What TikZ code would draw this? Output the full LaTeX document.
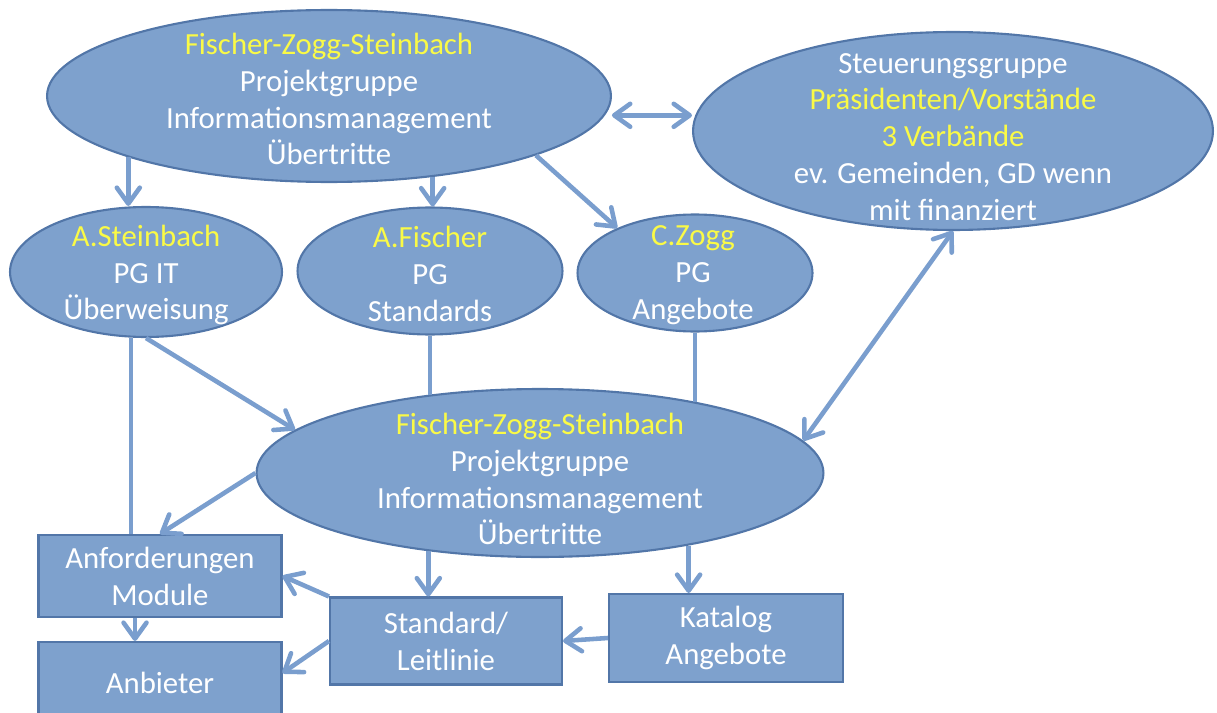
\documentclass[tikz,border=0pt]{standalone}
\usepackage{fontspec}
\setmainfont{Carlito}
\usetikzlibrary{shapes.geometric,arrows.meta,calc}
\definecolor{boxfill}{RGB}{126,161,205}
\definecolor{boxrule}{RGB}{82,118,168}
\definecolor{linkblue}{RGB}{122,158,206}
\definecolor{nameyellow}{RGB}{250,250,70}
\tikzset{
  bubble/.style={ellipse,draw=boxrule,line width=1.2pt,fill=boxfill,inner sep=0pt},
  panel/.style={rectangle,draw=boxrule,line width=1.2pt,fill=boxfill,inner sep=0pt},
  txt/.style={text=white,align=center,font=\fontsize{17.5}{21}\selectfont},
  barb/.tip={Straight Barb[length=3.2mm,width=4.6mm,round]},
  arr/.style={-barb,line width=2.6pt,draw=linkblue},
  dbl/.style={barb-barb,line width=2.6pt,draw=linkblue},
  ln/.style={line width=2.6pt,draw=linkblue}
}
\newcommand{\nm}[1]{\textcolor{nameyellow}{#1}}

\begin{document}
\begin{tikzpicture}[x=0.02cm,y=-0.02cm]
  \useasboundingbox (0,0) rectangle (1217,713);
  \clip (0,0) rectangle (1217,713);
  % ellipses
  \node[bubble,minimum width=11.28cm,minimum height=3.44cm] (pgTop) at (329,96) {};
  \node[txt] (pgTopTxt) at (329,99) {\nm{Fischer-Zogg-Steinbach}\\Projektgruppe\\Informationsmanagement\\Übertritte};
  \node[bubble,minimum width=10.4cm,minimum height=3.96cm] (steer) at (953,131) {};
  \node[txt] (steerTxt) at (953,137) {Steuerungsgruppe\\\nm{Präsidenten/Vorstände}\\\nm{3 Verbände}\\ev. Gemeinden, GD wenn\\mit finanziert};
  \node[bubble,minimum width=5.44cm,minimum height=2.6cm] (stIT) at (146,272) {};
  \node[txt] (stITTxt) at (146,275) {\nm{A.Steinbach}\\PG IT\\Überweisung};
  \node[bubble,minimum width=5.3cm,minimum height=2.54cm] (stStd) at (430,271) {};
  \node[txt] (stStdTxt) at (430,274) {\nm{A.Fischer}\\PG\\Standards};
  \node[bubble,minimum width=4.7cm,minimum height=2.34cm] (stAng) at (695,273) {};
  \node[txt] (stAngTxt) at (693,275) {\nm{C.Zogg}\\PG\\Angebote};
  \node[bubble,minimum width=11.34cm,minimum height=3.36cm] (pgBot) at (540,473) {};
  \node[txt] (pgBotTxt) at (540,479) {\nm{Fischer-Zogg-Steinbach}\\Projektgruppe\\Informationsmanagement\\Übertritte};
  % boxes
  \node[panel,txt,minimum width=4.86cm,minimum height=1.64cm] (anf) at (160,576) {Anforderungen\\Module};
  \node[panel,txt,minimum width=4.86cm,minimum height=1.64cm] (anb) at (160,683) {Anbieter};
  \node[panel,txt,minimum width=4.64cm,minimum height=1.74cm] (stdBox) at (446,641) {Standard/\\Leitlinie};
  \node[panel,txt,minimum width=4.68cm,minimum height=1.76cm] (katBox) at (726,638) {Katalog\\Angebote};
  % connectors
  \draw[arr] (pgTop.197.3) -- (pgTop.197.3 |- stIT.north);
  \draw[arr] (pgTop.-38.8) -- (pgTop.-38.8 |- stStd.north);
  \draw[arr] (pgTop.-16.6) -- (stAng.150);
  \draw[dbl,shorten <=0.14cm] (pgTop.-4.6) -- (pgTop.-4.6 -| steer.west);
  \draw[dbl] (steer.south) -- (pgBot.7.3);
  \draw[arr] (stIT.south) -- (pgBot.170.7);
  \draw[ln] (stIT.257.8) -- (stIT.257.8 |- anf.north);
  \draw[ln] (stStd.south) -- (stStd.south |- pgBot.145.6);
  \draw[ln] (stAng.south) -- (stAng.south |- pgBot.24.6);
  \draw[arr] (pgBot.west) -- (anf.north);
  \draw[arr] (pgBot.215.4) -- (pgBot.215.4 |- stdBox.north);
  \draw[arr] (pgBot.-26) -- (pgBot.-26 |- katBox.north);
  \draw[arr] ([xshift=-0.5cm]anf.south) -- ([xshift=-0.5cm]anb.north);
  \draw[arr] (stdBox.north west) -- (anf.east);
  \draw[arr] (stdBox.west) -- ([yshift=0.2cm]anb.east);
  \draw[arr] (katBox.west) -- (stdBox.east);
\end{tikzpicture}
\end{document}
